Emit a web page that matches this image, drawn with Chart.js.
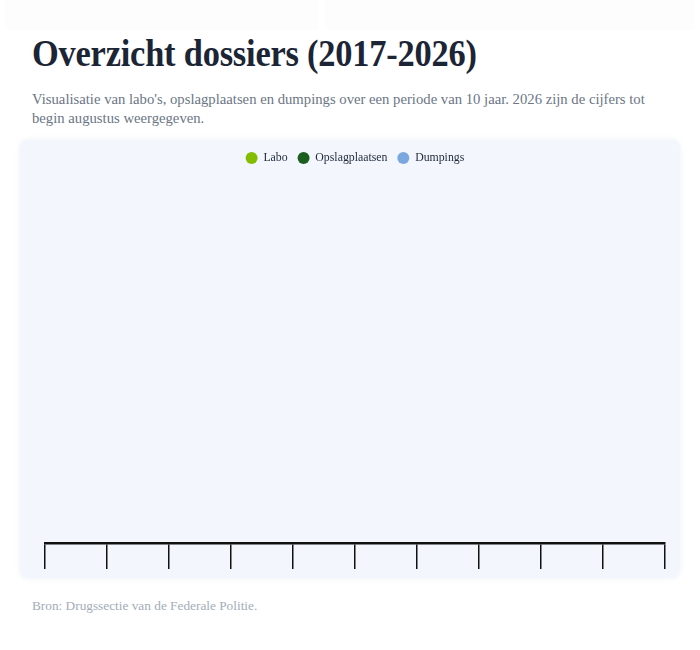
<!DOCTYPE html>
<html lang="nl">
<head>
<meta charset="utf-8">
<title>Overzicht dossiers (2017-2026)</title>
<script src="https://cdn.jsdelivr.net/npm/chart.js@4"></script>
<style>
  body {
    margin: 0;
    background: #fff;
    font-family: "Liberation Serif", "DejaVu Serif", serif;
    width: 700px;
  }
  .top {
    position: absolute;
    top: 0;
    height: 30px;
    background: #fdfdfd;
  }
  h1 {
    margin: 0;
    position: absolute;
    left: 32px;
    top: 31px;
    font-size: 34.4px;
    font-weight: bold;
    color: #1c2536;
    letter-spacing: -0.2px;
    transform: scaleY(1.12);
    transform-origin: left top;
  }
  .sub {
    position: absolute;
    left: 32px;
    top: 90px;
    width: 640px;
    font-size: 14.7px;
    line-height: 19px;
    color: #6b7585;
  }
  .kaart {
    position: absolute;
    left: 20px;
    top: 140px;
    width: 660px;
    height: 438px;
    background: #f3f7fd;
    border-radius: 8px;
    box-shadow: 0 0 5px rgba(200, 210, 225, 0.35);
  }
  .bron {
    position: absolute;
    left: 32px;
    top: 598px;
    font-size: 13.3px;
    color: #a3acb9;
  }
</style>
</head>
<body>
<div class="top" style="left:5px;width:313px"></div>
<div class="top" style="left:325px;width:370px"></div>
<h1>Overzicht dossiers (2017-2026)</h1>
<div class="sub">Visualisatie van labo's, opslagplaatsen en dumpings over een periode van 10 jaar. 2026 zijn de cijfers tot begin augustus weergegeven.</div>
<div class="kaart"><canvas id="grafiekDossiers"></canvas></div>
<div class="bron">Bron: Drugssectie van de Federale Politie.</div>

<script>
const jaren = ['2017', '2018', '2019', '2020', '2021', '2022', '2023', '2024', '2025', '2026'];
// in de afbeelding zijn geen staven zichtbaar
const labo = [0, 0, 0, 0, 0, 0, 0, 0, 0, 0];
const opslagplaatsen = [0, 0, 0, 0, 0, 0, 0, 0, 0, 0];
const dumpings = [0, 0, 0, 0, 0, 0, 0, 0, 0, 0];

const ctx = document.getElementById('grafiekDossiers');

new Chart(ctx, {
    type: 'bar',
    data: {
        labels: jaren,
        datasets: [
            { label: 'Labo', data: labo, backgroundColor: '#84bd00' },
            { label: 'Opslagplaatsen', data: opslagplaatsen, backgroundColor: '#1b5e20' },
            { label: 'Dumpings', data: dumpings, backgroundColor: '#7ba7e0' }
        ]
    },
    options: {
        responsive: true,
        maintainAspectRatio: false,
        animation: false,
        layout: {
            padding: { left: 25, right: 15, top: 2, bottom: 9 }
        },
        plugins: {
            legend: {
                labels: {
                    usePointStyle: true,
                    pointStyle: 'circle',
                    boxHeight: 8.5,
                    padding: 10,
                    color: '#1f2937',
                    font: { family: '"Liberation Serif", serif', size: 11.8 }
                }
            },
            tooltip: { enabled: false }
        },
        scales: {
            x: {
                grid: {
                    drawOnChartArea: false,
                    color: '#111',
                    lineWidth: 1.5,
                    tickLength: 26
                },
                border: { color: '#111', width: 2.5 },
                ticks: { display: false }
            },
            y: { display: false, beginAtZero: true }
        }
    }
});
</script>
</body>
</html>
